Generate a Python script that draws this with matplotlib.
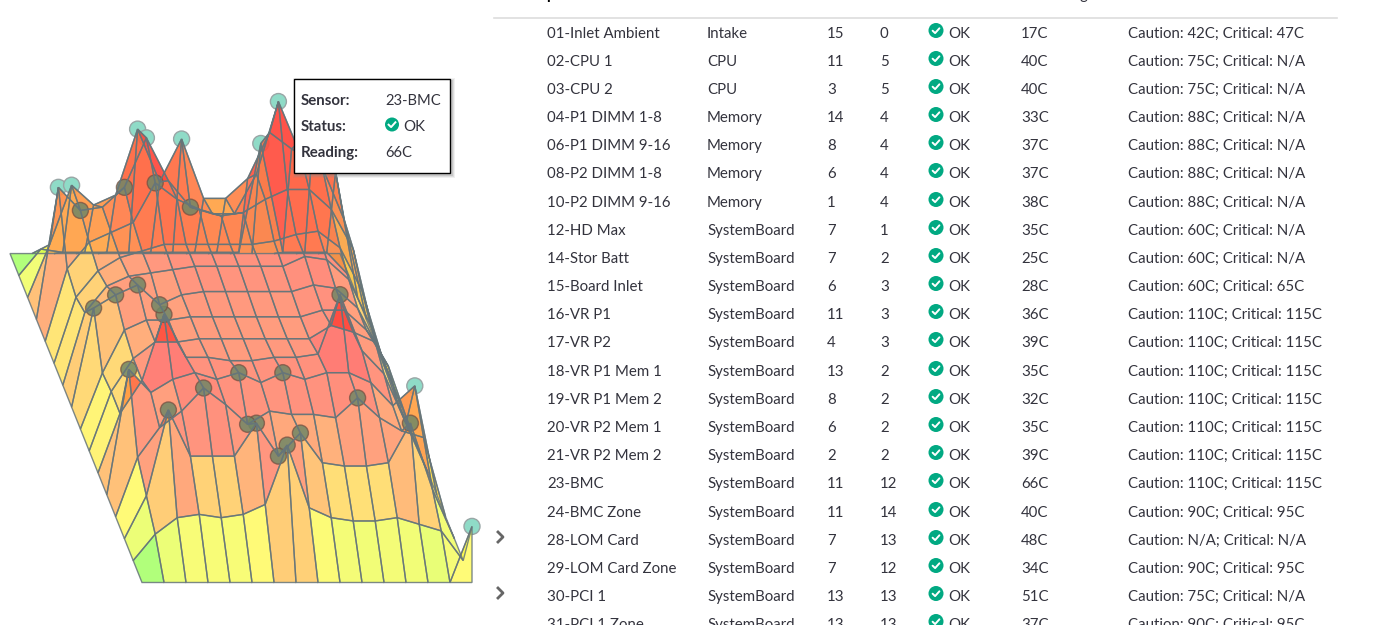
import matplotlib

matplotlib.use("Agg")
import matplotlib.pyplot as plt
import numpy as np
from matplotlib.colors import LinearSegmentedColormap
from matplotlib.patches import Circle, Polygon, Rectangle

plt.rcParams["font.family"] = ["Lato", "DejaVu Sans"]

# temperature grid, one list per row from front (j=0) to back (j=15), 16 columns
row_00 = [0, 0, 0, 0, 0, 0, 0, 0, 0, 0, 0, 0, 0, 0, 0, 17]
row_01 = [0, 8, 13, 14, 13, 14, 17, 35, 16, 13, 12, 12, 13, 11, 9, 0]
row_02 = [0, 13, 39, 25, 25, 25, 35, 25, 32, 23, 22, 22, 23, 35, 15, 0]
row_03 = [0, 18, 27, 32, 39, 34, 28, 32, 31, 31, 30, 36, 30, 26, 24, 0]
row_04 = [0, 38, 31, 35, 37, 35, 37, 34, 37, 35, 37, 37, 34, 27, 33, 0]
row_05 = [0, 18, 28, 48, 35, 35, 34, 34, 35, 35, 36, 54, 37, 30, 15, 0]
row_06 = [0, 18, 28, 33, 33, 34, 34, 34, 34, 34, 34, 38, 36, 33, 15, 0]
row_07 = [0, 17, 30, 33, 33, 34, 34, 34, 34, 34, 34, 36, 36, 30, 19, 0]
row_08 = [0, 30, 34, 37, 31, 34, 35, 35, 35, 35, 35, 37, 36, 30, 17, 0]
row_09 = [0, 22, 30, 33, 34, 35, 36, 36, 36, 36, 36, 39, 38, 32, 18, 0]
row_10 = [0, 20, 28, 32, 34, 36, 36, 36, 36, 36, 37, 39, 40, 35, 22, 0]
row_11 = [0, 22, 30, 33, 36, 48, 43, 40, 38, 39, 43, 46, 46, 40, 28, 0]
row_12 = [0, 40, 33, 34, 40, 55, 42, 34, 32, 32, 44, 66, 50, 46, 30, 0]
row_13 = [0, 16, 34, 28, 31, 51, 35, 48, 30, 30, 36, 50, 45, 51, 38, 0]
row_14 = [0, 8, 7, 7, 7, 7, 7, 7, 7, 7, 7, 40, 7, 7, 7, 0]
row_15 = [0, 0, 0, 0, 0, 0, 0, 0, 0, 0, 0, 0, 0, 0, 0, 0]

# sensors as they sit on the surface: column, row, temperature
sensor_i = [15, 7, 7, 13, 8, 6, 2, 6, 11, 4, 14, 8, 6, 1, 11, 3, 11, 7, 7, 13, 11,
            5, 5, 4, 5, 2, 1, 2, 1, 2, 3, 4]
sensor_j = [0, 1, 2, 2, 2, 2, 2, 3, 3, 3, 4, 4, 4, 4, 5, 5, 12, 12, 13, 13, 14,
            13, 12, 12, 11, 12, 12, 13, 8, 8, 8, 8]
sensor_t = [17, 35, 25, 35, 32, 35, 39, 28, 36, 39, 33, 37, 37, 38, 54, 48, 66, 34, 48, 51, 40,
            51, 55, 40, 48, 33, 40, 34, 30, 34, 37, 31]
# the ones standing clear of the surface
exposed = {(15, 0), (14, 4), (11, 12), (11, 14), (7, 13), (5, 13), (5, 12), (1, 12), (2, 13)}

names = ["01-Inlet Ambient", "02-CPU 1", "03-CPU 2", "04-P1 DIMM 1-8", "06-P1 DIMM 9-16",
         "08-P2 DIMM 1-8", "10-P2 DIMM 9-16", "12-HD Max", "14-Stor Batt", "15-Board Inlet",
         "16-VR P1", "17-VR P2", "18-VR P1 Mem 1", "19-VR P1 Mem 2", "20-VR P2 Mem 1",
         "21-VR P2 Mem 2", "23-BMC", "24-BMC Zone", "28-LOM Card", "29-LOM Card Zone",
         "30-PCI 1", "31-PCI 1 Zone"]
contexts = ["Intake", "CPU", "CPU", "Memory", "Memory", "Memory", "Memory", "SystemBoard",
            "SystemBoard", "SystemBoard", "SystemBoard", "SystemBoard", "SystemBoard",
            "SystemBoard", "SystemBoard", "SystemBoard", "SystemBoard", "SystemBoard",
            "SystemBoard", "SystemBoard", "SystemBoard", "SystemBoard"]
col_x = [15, 11, 3, 14, 8, 6, 1, 7, 7, 6, 11, 4, 13, 8, 6, 2, 11, 11, 7, 7, 13, 13]
col_y = [0, 5, 5, 4, 4, 4, 4, 1, 2, 3, 3, 3, 2, 2, 2, 2, 12, 14, 13, 12, 13, 13]
readings = ["17C", "40C", "40C", "33C", "37C", "37C", "38C", "35C", "25C", "28C", "36C",
            "39C", "35C", "32C", "35C", "39C", "66C", "40C", "48C", "34C", "51C", "37C"]
thresholds = ["42C; Critical: 47C", "75C; Critical: N/A", "75C; Critical: N/A",
              "88C; Critical: N/A", "88C; Critical: N/A", "88C; Critical: N/A",
              "88C; Critical: N/A", "60C; Critical: N/A", "60C; Critical: N/A",
              "60C; Critical: 65C", "110C; Critical: 115C", "110C; Critical: 115C",
              "110C; Critical: 115C", "110C; Critical: 115C", "110C; Critical: 115C",
              "110C; Critical: 115C", "110C; Critical: 115C", "90C; Critical: 95C",
              "N/A; Critical: N/A", "90C; Critical: 95C", "75C; Critical: N/A",
              "90C; Critical: 95C"]
row_y = [33, 61, 89, 117, 145, 173, 202, 230, 258, 286, 314, 342, 371, 399, 427, 455, 483,
         512, 540, 568, 596, 624]
chevron_rows = [18, 20]

TEXT = "#33333d"
OK_GREEN = "#01a982"
EDGE = (0.40, 0.46, 0.48, 0.85)

heat = LinearSegmentedColormap.from_list(
    "heat",
    [
        (0.0, (127 / 255, 1.0, 70 / 255)),
        (5 / 66, (150 / 255, 1.0, 66 / 255)),
        (9 / 66, (220 / 255, 1.0, 62 / 255)),
        (15 / 66, (1.0, 250 / 255, 62 / 255)),
        (18 / 66, (1.0, 238 / 255, 62 / 255)),
        (26 / 66, (1.0, 184 / 255, 62 / 255)),
        (35 / 66, (1.0, 105 / 255, 73 / 255)),
        (42 / 66, (1.0, 72 / 255, 60 / 255)),
        (1.0, (1.0, 60 / 255, 50 / 255)),
    ],
)


def project(i, j, t):
    # oblique view of the board, result in figure pixels
    return 142 + 22 * i - 8.8 * j, 582.5 - 21.93 * j - 3.3 * t


def draw_surface(ax, grid):
    rows, cols = grid.shape
    for j in range(rows - 2, -1, -1):
        for i in range(cols - 1):
            corners = [(i, j), (i + 1, j), (i + 1, j + 1), (i, j + 1)]
            pts = [project(a, b, grid[b, a]) for a, b in corners]
            values = sorted(grid[b, a] for a, b in corners)
            # the front rows and the left strip read hotter than their mean
            value = np.mean(values[2:]) if j < 5 or i == 0 else np.mean(values)
            ax.add_patch(Polygon(pts, closed=True, facecolor=(*heat(value / 66)[:3], 0.7),
                                 edgecolor="none", zorder=2))
            ax.add_patch(Polygon(pts, closed=True, facecolor="none", edgecolor=EDGE,
                                 linewidth=1.0, zorder=4))
    # skirt under the raised front corner
    front = [project(14, 0, grid[0, 14]), project(15, 0, grid[0, 15]), project(15, 0, 0)]
    ax.add_patch(Polygon(front, closed=True, facecolor=(*heat(15 / 66)[:3], 0.7),
                         edgecolor=EDGE, linewidth=1.0, zorder=2))


def draw_check(ax, cx, cy, r=7.5):
    ax.add_patch(Circle((cx, cy), r, facecolor=OK_GREEN, edgecolor="none", zorder=6))
    ax.plot([cx - 3.4, cx - 0.9, cx + 3.4], [cy + 0.2, cy + 2.6, cy - 2.2], color="white",
            linewidth=1.4, zorder=7, solid_capstyle="round")


fig = plt.figure(figsize=(13.91, 6.25), dpi=100)
ax = fig.add_axes([0, 0, 1, 1])
ax.set_xlim(0, 1391)
ax.set_ylim(625, 0)
ax.axis("off")

grid = np.array([row_00, row_01, row_02, row_03, row_04, row_05, row_06, row_07,
                 row_08, row_09, row_10, row_11, row_12, row_13, row_14, row_15], dtype=float)
draw_surface(ax, grid)

for i, j, t in zip(sensor_i, sensor_j, sensor_t):
    if (i, j) in exposed:
        face, edge, order = (0.56, 0.86, 0.78), (0.6, 0.65, 0.65), 1
    else:
        face, edge, order = (0.44, 0.53, 0.40, 0.85), (0.45, 0.3, 0.25, 0.7), 3
    ax.add_patch(Circle(project(i, j, t), 8, facecolor=face, edgecolor=edge, linewidth=1, zorder=order))

# tooltip
for grow, alpha in [(3, 0.12), (2, 0.18), (1, 0.25)]:
    ax.add_patch(Rectangle((296 - grow, 81 - grow), 156 + 2 * grow, 94 + 2 * grow, facecolor="#888888",
                           edgecolor="none", alpha=alpha, zorder=8))
ax.add_patch(Rectangle((294, 79), 156, 94, facecolor="white", edgecolor="black", linewidth=1, zorder=9))
for y, label in zip([105, 131, 157], ["Sensor:", "Status:", "Reading:"]):
    ax.text(301, y, label, fontsize=10.8, fontweight="bold", color=TEXT, va="baseline", zorder=10)
ax.text(385.5, 105, "23-BMC", fontsize=10.6, color=TEXT, va="baseline", zorder=10)
ax.text(403, 131, "OK", fontsize=10.8, color=TEXT, va="baseline", zorder=10)
ax.text(385.5, 157, "66C", fontsize=10.6, color=TEXT, va="baseline", zorder=10)
ax.add_patch(Circle((392, 124.5), 7, facecolor=OK_GREEN, edgecolor="none", zorder=10))
ax.plot([388.6, 391.1, 395.4], [124.7, 127.1, 122.3], color="white", linewidth=1.4, zorder=11)

# table
ax.plot([494, 1337], [17.5, 17.5], color="#dddddd", linewidth=1.2)
ax.text(546, -1, "p", fontsize=11, fontweight="bold", color="black", va="baseline")
ax.text(1079, -1, "g", fontsize=11, color=TEXT, va="baseline")
for n, y in enumerate(row_y):
    for x, text in [(547, names[n]), (707, contexts[n]), (827, str(col_x[n])), (880, str(col_y[n])),
                    (948, "OK"), (1021, readings[n]), (1128, "Caution: " + thresholds[n])]:
        ax.text(x, y + 5, text, fontsize=10.8, color=TEXT, va="baseline")
    draw_check(ax, 936, y - 2.5)

for n in chevron_rows:
    y = row_y[n] - 3
    ax.plot([498, 503, 498], [y - 5, y, y + 5], color="#666666", linewidth=2)

fig.savefig("out.png", dpi=100)
